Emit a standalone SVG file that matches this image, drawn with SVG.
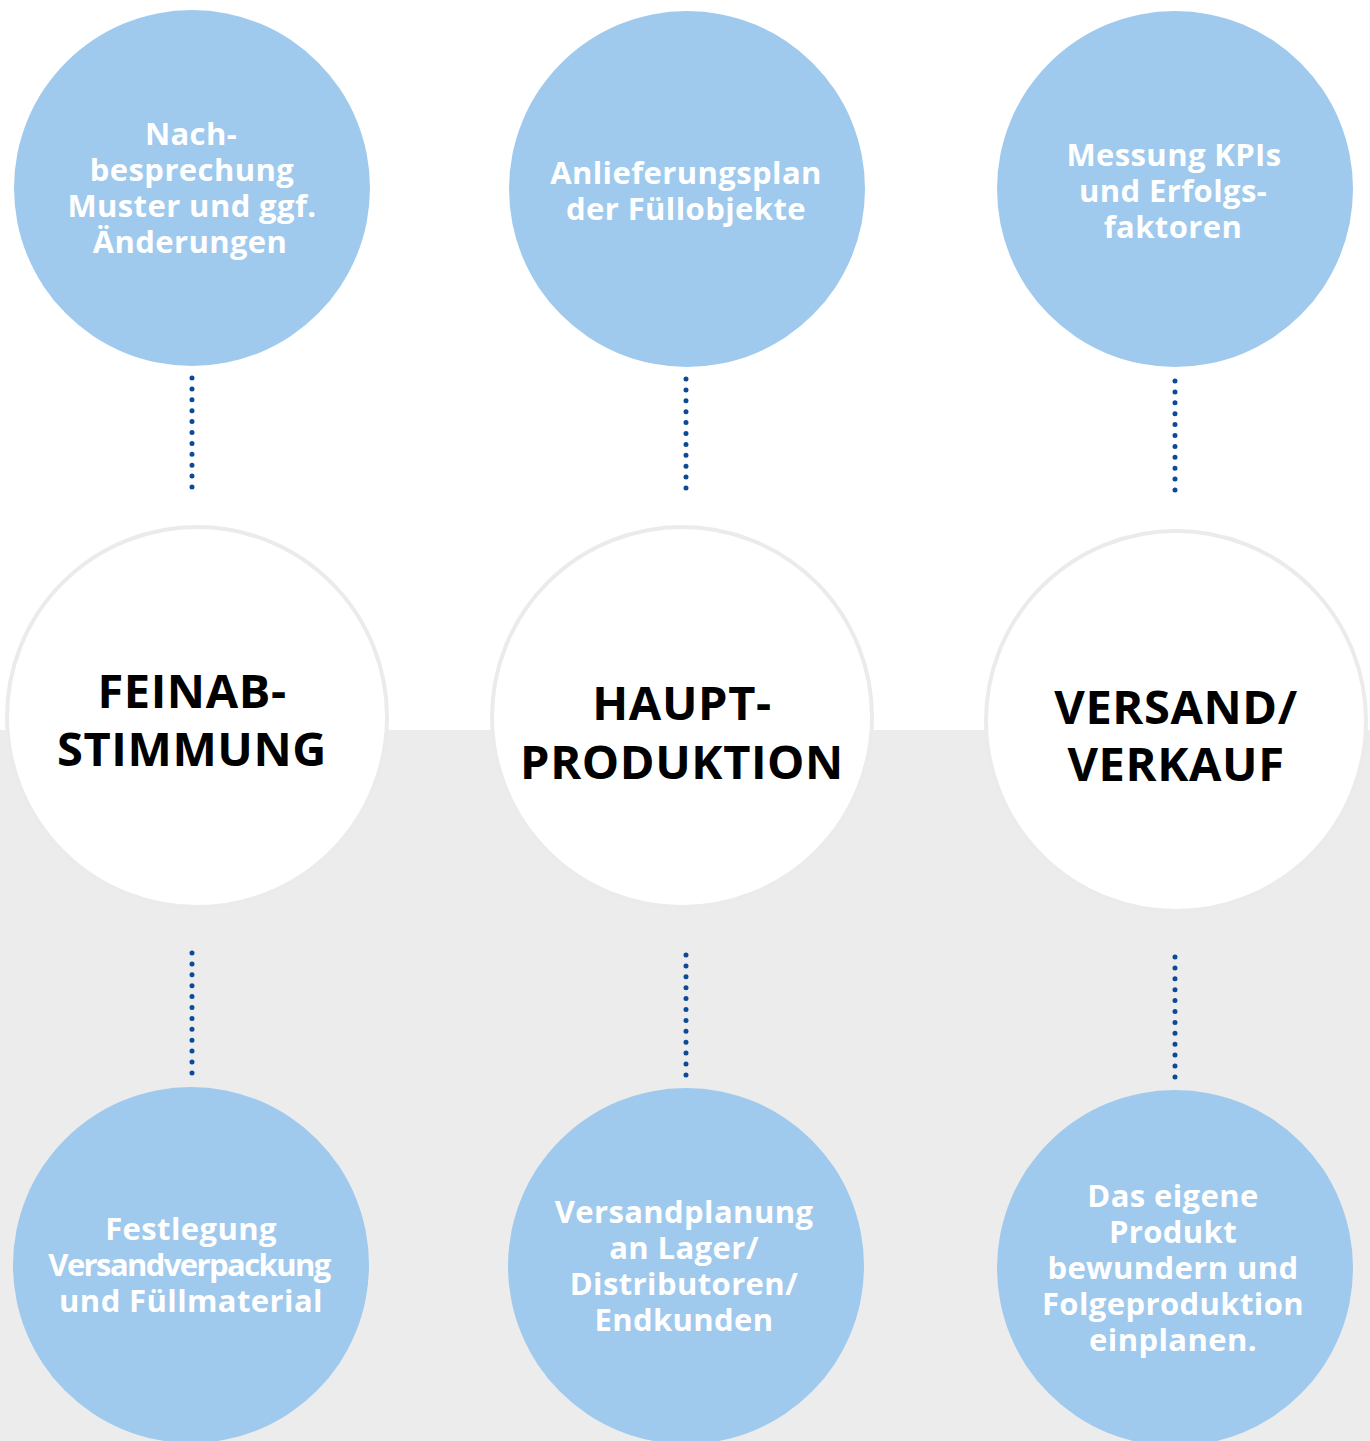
<svg xmlns="http://www.w3.org/2000/svg" width="1370" height="1441" viewBox="0 0 1370 1441">
<style>
.blue{fill:#9fcaed}
.white{fill:#ffffff;stroke:#ebebeb;stroke-width:4}
.bt{font-family:"Open Sans","Noto Sans",sans-serif;font-weight:700;font-size:31px;fill:#ffffff;text-anchor:middle;letter-spacing:0.4px}
.bt.cond{letter-spacing:-1.6px}
.wt{font-family:"Open Sans","Noto Sans",sans-serif;font-weight:700;font-size:47px;fill:#000000;text-anchor:middle;letter-spacing:0.6px}
.dot{stroke:#0b4a99;stroke-width:5;stroke-linecap:round;stroke-dasharray:0 10.9;fill:none}
</style>
<rect x="0" y="0" width="1370" height="1441" fill="#ffffff"/>
<rect x="0" y="730" width="1370" height="711" fill="#ececec"/>
<g id="connectors">
<line class="dot" x1="192" y1="378" x2="192" y2="487"/>
<line class="dot" x1="686" y1="379" x2="686" y2="488"/>
<line class="dot" x1="1175" y1="381" x2="1175" y2="490"/>
<line class="dot" x1="192" y1="953" x2="192" y2="1073"/>
<line class="dot" x1="686" y1="955" x2="686" y2="1075"/>
<line class="dot" x1="1175" y1="957" x2="1175" y2="1077"/>
</g>
<g id="top1"><circle class="blue" cx="192" cy="188" r="178"/>
<text class="bt" x="191" y="145">Nach-</text><text class="bt" x="192" y="181">besprechung</text><text class="bt" x="192" y="217">Muster und ggf.</text><text class="bt" x="190" y="253">Änderungen</text></g>
<g id="top2"><circle class="blue" cx="687" cy="189" r="178"/>
<text class="bt" x="686" y="184">Anlieferungsplan</text><text class="bt" x="686" y="220">der Füllobjekte</text></g>
<g id="top3"><circle class="blue" cx="1175" cy="189" r="178"/>
<text class="bt" x="1174" y="166">Messung KPIs</text><text class="bt" x="1173" y="202">und Erfolgs-</text><text class="bt" x="1173" y="238">faktoren</text></g>
<g id="mid1"><circle class="white" cx="197" cy="717" r="190"/>
<text class="wt" x="192" y="708">FEINAB-</text><text class="wt" x="192" y="766">STIMMUNG</text></g>
<g id="mid2"><circle class="white" cx="682" cy="717" r="190"/>
<text class="wt" x="682" y="720">HAUPT-</text><text class="wt" x="682" y="779">PRODUKTION</text></g>
<g id="mid3"><circle class="white" cx="1176" cy="721" r="190"/>
<text class="wt" x="1176" y="724">VERSAND/</text><text class="wt" x="1176" y="781">VERKAUF</text></g>
<g id="bot1"><circle class="blue" cx="191" cy="1265" r="178"/>
<text class="bt" x="191" y="1240">Festlegung</text><text class="bt cond" x="189" y="1276">Versandverpackung</text><text class="bt" x="191" y="1312">und Füllmaterial</text></g>
<g id="bot2"><circle class="blue" cx="686" cy="1266" r="178"/>
<text class="bt" x="684" y="1223">Versandplanung</text><text class="bt" x="684" y="1259">an Lager/</text><text class="bt" x="684" y="1295">Distributoren/</text><text class="bt" x="684" y="1331">Endkunden</text></g>
<g id="bot3"><circle class="blue" cx="1175" cy="1268" r="178"/>
<text class="bt" x="1173" y="1207">Das eigene</text><text class="bt" x="1173" y="1243">Produkt</text><text class="bt" x="1173" y="1279">bewundern und</text><text class="bt" x="1173" y="1315">Folgeproduktion</text><text class="bt" x="1173" y="1351">einplanen.</text></g>
</svg>
